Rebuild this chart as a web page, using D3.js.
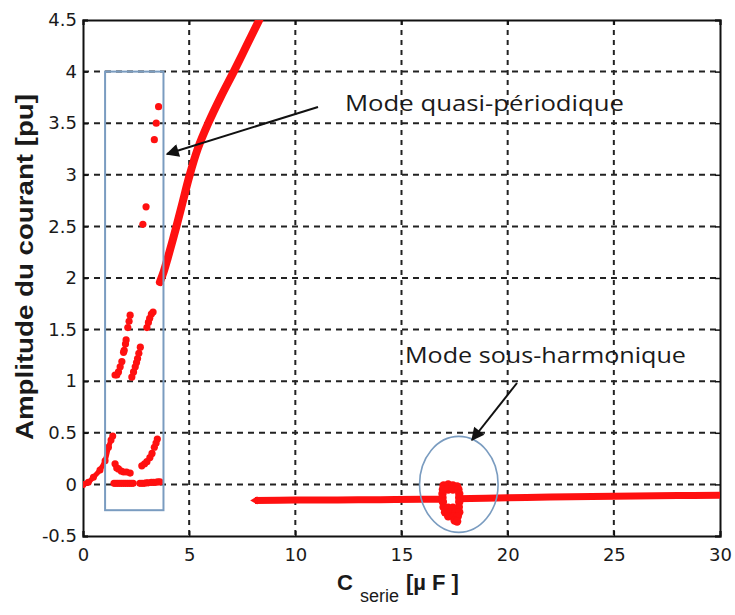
<!DOCTYPE html>
<html>
<head>
<meta charset="utf-8">
<script src="https://cdn.jsdelivr.net/npm/d3@7"></script>
<style>
  html, body { margin: 0; padding: 0; background: #fff; }
  svg { display: block; }
</style>
</head>
<body>
<svg id="chart" width="735" height="615"></svg>
<script>
// Axis ticks
const xTicks = [0, 5, 10, 15, 20, 25, 30];
const yTicks = [-0.5, 0, 0.5, 1, 1.5, 2, 2.5, 3, 3.5, 4, 4.5];

// Rising branch from the origin up to the first jump
const startCurve = [
  [0, 0], [0.25, 0.02], [0.49, 0.07], [0.8, 0.14], [1.04, 0.23], [1.2, 0.36], [1.32, 0.43], [1.4, 0.47]
];

// Main resonant branch (upper curve)
const mainCurve = [
  [3.62, 1.96], [3.8, 2.06], [4.0, 2.2], [4.4, 2.5], [4.7, 2.74], [5.0, 2.98],
  [5.4, 3.25], [5.9, 3.5], [6.5, 3.76], [7.1, 4.0], [7.7, 4.25], [8.3, 4.5]
];

// Low branch at large capacitance (interrupted by the sub-harmonic cluster)
const lowBranchA = [
  [8.1, -0.155], [10, -0.152], [12, -0.15], [14, -0.148], [16, -0.145], [17.1, -0.143]
];
const lowBranchB = [
  [17.55, -0.14], [20, -0.13], [22, -0.122], [25, -0.115], [28, -0.108], [30, -0.105]
];

// Quasi-periodic mode: scattered amplitudes
const quasiPoints = [
  // decaying branch after the jump
  [1.51, 0.2], [1.59, 0.16], [1.67, 0.15], [1.8, 0.13], [1.91, 0.12], [2.05, 0.12], [2.22, 0.11],
  // near-zero branch
  [1.46, 0.01], [1.55, 0.01], [1.64, 0.01], [1.73, 0.01], [1.82, 0.01], [1.91, 0.01], [2.0, 0.01],
  [2.09, 0.01], [2.18, 0.01], [2.27, 0.01], [2.36, 0.01],
  [2.68, 0.01], [2.78, 0.01], [2.88, 0.01], [2.98, 0.015], [3.07, 0.015],
  [3.22, 0.02], [3.32, 0.02], [3.42, 0.02], [3.52, 0.025], [3.62, 0.025],
  // rising branch toward the jump
  [2.77, 0.18], [2.9, 0.2], [3.01, 0.22], [3.15, 0.26], [3.25, 0.3], [3.36, 0.36], [3.44, 0.4], [3.5, 0.44],
  // first upper branch
  [1.51, 1.06], [1.59, 1.06], [1.67, 1.09], [1.75, 1.14], [1.83, 1.19], [1.91, 1.28],
  [1.94, 1.3], [2.0, 1.36], [2.03, 1.4], [2.11, 1.52], [2.17, 1.58], [2.22, 1.64],
  // second upper branch
  [2.3, 1.04], [2.38, 1.09], [2.46, 1.14], [2.52, 1.18], [2.57, 1.22], [2.63, 1.27], [2.7, 1.33],
  [3.01, 1.52], [3.08, 1.57], [3.14, 1.61], [3.22, 1.65], [3.3, 1.67],
  // isolated points
  [2.82, 2.52], [2.97, 2.69], [3.36, 3.34], [3.45, 3.5], [3.56, 3.66]
];

// Sub-harmonic mode cluster (ring around an empty core)
const subPoints = [
  [16.98, -0.01], [17.2, 0.0], [17.42, -0.01], [17.62, -0.02],
  [16.95, -0.05], [17.2, -0.05], [17.42, -0.05], [17.68, -0.05],
  [16.93, -0.09], [17.72, -0.09],
  [16.93, -0.13], [17.72, -0.13],
  [16.95, -0.17], [17.72, -0.17],
  [16.98, -0.22], [17.2, -0.225], [17.42, -0.225], [17.7, -0.22],
  [17.05, -0.27], [17.3, -0.27], [17.55, -0.27], [17.72, -0.27],
  [17.2, -0.31], [17.45, -0.31], [17.65, -0.31],
  [17.5, -0.35], [17.62, -0.36]
];

// Annotation marks in data units
const quasiBox = { x0: 1.04, x1: 3.79, y0: -0.25, y1: 4.0 };
const subEllipse = { cx: 17.7, cy: 0.0, rx: 1.85, ry: 0.465 };

const svg = d3.select("#chart");
const M = { left: 83, top: 20, right: 720, bottom: 536 };
const x = d3.scaleLinear().domain([0, 30]).range([M.left, M.right]);
const y = d3.scaleLinear().domain([-0.5, 4.5]).range([M.bottom, M.top]);

const red = "#ff1010";
const gridColor = "#222";

svg.append("defs").append("clipPath").attr("id", "plot-area")
  .append("rect").attr("x", M.left).attr("y", M.top)
  .attr("width", M.right - M.left + 6).attr("height", M.bottom - M.top);

// Grid
const grid = svg.append("g");
grid.selectAll("line.gx").data(xTicks.slice(1, -1)).join("line")
  .attr("x1", d => x(d)).attr("x2", d => x(d))
  .attr("y1", M.top).attr("y2", M.bottom)
  .attr("stroke", gridColor).attr("stroke-width", 2).attr("stroke-dasharray", "5,5");
grid.selectAll("line.gy").data(yTicks.slice(1, -1)).join("line")
  .attr("y1", d => y(d)).attr("y2", d => y(d))
  .attr("x1", M.left).attr("x2", M.right)
  .attr("stroke", gridColor).attr("stroke-width", 2).attr("stroke-dasharray", "6,5");

// Axes with inward ticks on all sides
const tickFont = "'DejaVu Sans', sans-serif";
const axB = svg.append("g").attr("transform", `translate(0,${M.bottom})`)
  .call(d3.axisBottom(x).tickValues(xTicks).tickSize(-5).tickPadding(12).tickFormat(d => String(d)));
const axT = svg.append("g").attr("transform", `translate(0,${M.top})`)
  .call(d3.axisTop(x).tickValues(xTicks).tickSize(-5).tickFormat(""));
const axL = svg.append("g").attr("transform", `translate(${M.left},0)`)
  .call(d3.axisLeft(y).tickValues(yTicks).tickSize(-5).tickPadding(6).tickFormat(d => String(d)));
const axR = svg.append("g").attr("transform", `translate(${M.right},0)`)
  .call(d3.axisRight(y).tickValues(yTicks).tickSize(-5).tickFormat(""));
[axB, axT, axL, axR].forEach(a => {
  a.select(".domain").attr("stroke", "#111").attr("stroke-width", 2);
  a.selectAll(".tick line").attr("stroke", "#111").attr("stroke-width", 1.5);
  a.selectAll("text").attr("font-family", tickFont).attr("font-size", 18).attr("fill", "#1a1a1a");
});

// Data marks
const line = d3.line().x(d => x(d[0])).y(d => y(d[1])).curve(d3.curveCatmullRom);
const plot = svg.append("g").attr("clip-path", "url(#plot-area)");
plot.append("path").datum(startCurve).attr("d", line)
  .attr("fill", "none").attr("stroke", red).attr("stroke-width", 5).attr("stroke-linecap", "round");
plot.selectAll("circle.s").data(startCurve).join("circle")
  .attr("cx", d => x(d[0])).attr("cy", d => y(d[1])).attr("r", 3.5).attr("fill", red);
plot.append("path").datum(mainCurve).attr("d", line)
  .attr("fill", "none").attr("stroke", red).attr("stroke-width", 8).attr("stroke-linecap", "round");
[lowBranchA, lowBranchB].forEach(seg => {
  plot.append("path").datum(seg).attr("d", line)
    .attr("fill", "none").attr("stroke", red).attr("stroke-width", 7);
});
plot.append("path")
  .attr("d", d3.symbol().type(d3.symbolTriangle).size(30)())
  .attr("transform", `translate(${x(lowBranchA[0][0])},${y(lowBranchA[0][1])}) rotate(-90)`)
  .attr("fill", red);
plot.selectAll("circle.q").data(quasiPoints).join("circle")
  .attr("cx", d => x(d[0])).attr("cy", d => y(d[1])).attr("r", 3.6).attr("fill", red);
plot.selectAll("circle.h").data(subPoints).join("circle")
  .attr("cx", d => x(d[0])).attr("cy", d => y(d[1])).attr("r", 4.2).attr("fill", red);

// Annotations
const annoColor = "#7a9cc0";
svg.append("rect")
  .attr("x", x(quasiBox.x0)).attr("y", y(quasiBox.y1))
  .attr("width", x(quasiBox.x1) - x(quasiBox.x0)).attr("height", y(quasiBox.y0) - y(quasiBox.y1))
  .attr("fill", "none").attr("stroke", annoColor).attr("stroke-width", 2);
svg.append("ellipse")
  .attr("cx", x(subEllipse.cx)).attr("cy", y(subEllipse.cy))
  .attr("rx", x(subEllipse.cx + subEllipse.rx) - x(subEllipse.cx))
  .attr("ry", y(subEllipse.cy - subEllipse.ry) - y(subEllipse.cy))
  .attr("fill", "none").attr("stroke", annoColor).attr("stroke-width", 1.6);

svg.select("defs").append("marker").attr("id", "arrowhead")
  .attr("viewBox", "0 0 10 10").attr("refX", 9).attr("refY", 5)
  .attr("markerWidth", 16).attr("markerHeight", 13).attr("orient", "auto")
  .attr("markerUnits", "userSpaceOnUse")
  .append("path").attr("d", "M0,0 L10,5 L0,10 z").attr("fill", "#111");

function arrow(x1, y1, x2, y2) {
  svg.append("line").attr("x1", x1).attr("y1", y1).attr("x2", x2).attr("y2", y2)
    .attr("stroke", "#111").attr("stroke-width", 2).attr("marker-end", "url(#arrowhead)");
}
arrow(318, 107, 167, 154);
arrow(517, 383, 472, 440);

const noteFont = "'Open Sans', sans-serif";
svg.append("text").attr("x", 345).attr("y", 111)
  .attr("font-family", noteFont).attr("font-size", 22).attr("fill", "#1a1a1a")
  .attr("textLength", 279).attr("lengthAdjust", "spacingAndGlyphs")
  .text("Mode quasi-périodique");
svg.append("text").attr("x", 405).attr("y", 363)
  .attr("font-family", noteFont).attr("font-size", 22).attr("fill", "#1a1a1a")
  .attr("textLength", 281).attr("lengthAdjust", "spacingAndGlyphs")
  .text("Mode sous-harmonique");

// Axis titles
svg.append("text")
  .attr("transform", "translate(33,267) rotate(-90)")
  .attr("text-anchor", "middle")
  .attr("font-family", "'Liberation Sans', Arial, sans-serif").attr("font-weight", "bold")
  .attr("font-size", 23).attr("fill", "#1a1a1a")
  .attr("textLength", 346).attr("lengthAdjust", "spacingAndGlyphs")
  .text("Amplitude du courant [pu]");

const xt = svg.append("text").attr("x", 337).attr("y", 590)
  .attr("font-family", "'Liberation Sans', Arial, sans-serif").attr("font-weight", "bold")
  .attr("font-size", 22).attr("fill", "#1a1a1a");
xt.append("tspan").text("C");
xt.append("tspan").attr("font-size", 18).attr("font-weight", "normal").attr("dy", 12).attr("dx", 7).text("serie");
xt.append("tspan").attr("dy", -12).attr("dx", 7).text("[µ F ]");
</script>
</body>
</html>
